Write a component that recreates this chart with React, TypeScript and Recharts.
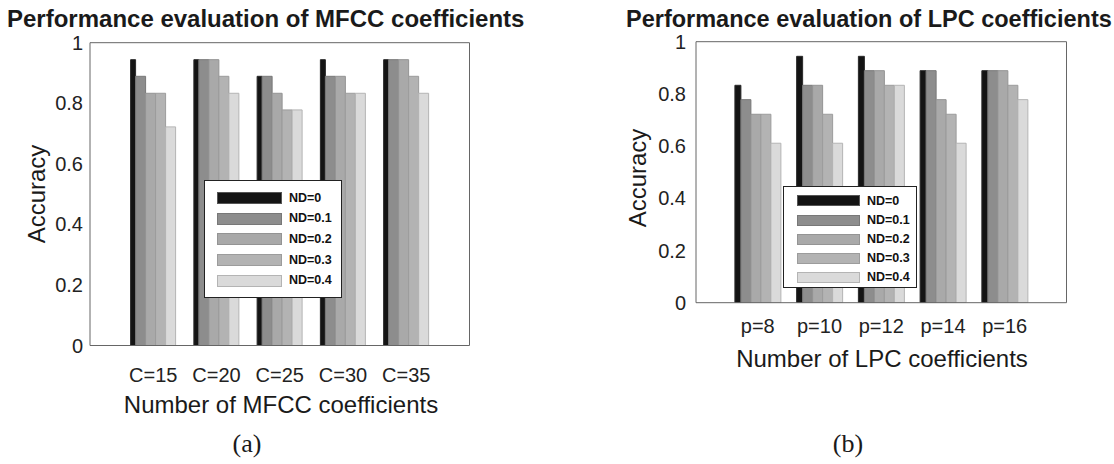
import React from 'react';
import { BarChart, Bar, XAxis, YAxis, Legend } from 'recharts';

// series (noise levels)
const seriesNames = ['ND=0', 'ND=0.1', 'ND=0.2', 'ND=0.3', 'ND=0.4'];
const seriesFill = ['#141414', '#8d8d8d', '#a9a9a9', '#b3b3b3', '#dadada'];
const seriesStroke = ['#2a2a2a', '#787878', '#949494', '#9c9c9c', '#b4b4b4'];
const yTicks = [0, 0.2, 0.4, 0.6, 0.8, 1];

// (a) MFCC
const mfccCategories = ['C=15', 'C=20', 'C=25', 'C=30', 'C=35'];
const mfccNd0 = [0.944, 0.944, 0.889, 0.944, 0.944];
const mfccNd01 = [0.889, 0.944, 0.889, 0.889, 0.944];
const mfccNd02 = [0.833, 0.944, 0.833, 0.889, 0.944];
const mfccNd03 = [0.833, 0.889, 0.778, 0.833, 0.889];
const mfccNd04 = [0.722, 0.833, 0.778, 0.833, 0.833];

// (b) LPC
const lpcCategories = ['p=8', 'p=10', 'p=12', 'p=14', 'p=16'];
const lpcNd0 = [0.833, 0.944, 0.944, 0.889, 0.889];
const lpcNd01 = [0.778, 0.833, 0.889, 0.889, 0.889];
const lpcNd02 = [0.722, 0.833, 0.889, 0.778, 0.889];
const lpcNd03 = [0.722, 0.722, 0.833, 0.722, 0.833];
const lpcNd04 = [0.611, 0.611, 0.833, 0.611, 0.778];

const FONT = '"Liberation Sans", Arial, sans-serif';

function buildRows(categories: string[], series: number[][]) {
  return categories.map((cat, i) => {
    const row: Record<string, string | number> = { cat };
    series.forEach((s, k) => {
      row['s' + k] = s[i];
    });
    return row;
  });
}

const mfccData = buildRows(mfccCategories, [mfccNd0, mfccNd01, mfccNd02, mfccNd03, mfccNd04]);
const lpcData = buildRows(lpcCategories, [lpcNd0, lpcNd01, lpcNd02, lpcNd03, lpcNd04]);

interface LegendLayout {
  left: number;
  top: number;
  width: number;
  height: number;
  padTop: number;
  rowH: number;
  swatchLeft: number;
  swatchW: number;
  swatchH: number;
}

const makeLegend = (lg: LegendLayout) => (props: any) => {
  const payload = props.payload || [];
  return (
    <div
      style={{
        width: lg.width,
        height: lg.height,
        boxSizing: 'border-box',
        border: '1px solid #222',
        background: '#fff',
        paddingTop: lg.padTop,
      }}
    >
      {payload.map((entry: any) => {
        const idx = seriesNames.indexOf(entry.value);
        return (
          <div key={entry.value} style={{ display: 'flex', alignItems: 'center', height: lg.rowH }}>
            <div
              style={{
                marginLeft: lg.swatchLeft,
                width: lg.swatchW,
                height: lg.swatchH,
                boxSizing: 'border-box',
                background: seriesFill[idx],
                border: '1px solid ' + (idx === 0 ? '#555' : seriesStroke[idx]),
              }}
            />
            <span
              style={{
                marginLeft: 7,
                fontFamily: FONT,
                fontWeight: 'bold',
                fontSize: 12.5,
                color: '#111',
                lineHeight: 1,
              }}
            >
              {entry.value}
            </span>
          </div>
        );
      })}
    </div>
  );
};

interface PanelProps {
  data: Record<string, string | number>[];
  left: number;
  width: number;
  margin: { top: number; right: number; bottom: number; left: number };
  pad: number;
  barSizes: number[];
  xTickGap: number;
  yTickGap: number;
  legend: LegendLayout;
}

const Panel: React.FC<PanelProps> = ({ data, left, width, margin, pad, barSizes, xTickGap, yTickGap, legend }) => {
  const tickFont = { fill: '#222', fontSize: 20, fontFamily: FONT };
  return (
    <div style={{ position: 'absolute', left, top: 0 }}>
      <BarChart width={width} height={464} data={data} margin={margin} barGap={0}>
        <XAxis
          dataKey="cat"
          xAxisId="b"
          interval={0}
          height={30}
          padding={{ left: pad, right: pad }}
          tickLine={false}
          tickSize={0}
          tickMargin={xTickGap}
          axisLine={{ stroke: '#666' }}
          tick={tickFont}
        />
        <XAxis
          dataKey="cat"
          xAxisId="t"
          orientation="top"
          mirror
          interval={0}
          padding={{ left: pad, right: pad }}
          tick={false}
          tickSize={4}
          tickLine={{ stroke: '#222' }}
          axisLine={{ stroke: '#666' }}
        />
        <YAxis
          yAxisId="l"
          domain={[0, 1]}
          ticks={yTicks}
          allowDataOverflow
          width={60}
          tickLine={false}
          tickSize={0}
          tickMargin={yTickGap}
          axisLine={{ stroke: '#666' }}
          tick={tickFont}
          tickFormatter={(v: number) => String(v)}
        />
        <YAxis
          yAxisId="li"
          domain={[0, 1]}
          ticks={yTicks}
          allowDataOverflow
          mirror
          tick={false}
          tickSize={4}
          tickLine={{ stroke: '#222' }}
          axisLine={false}
        />
        <YAxis
          yAxisId="r"
          orientation="right"
          domain={[0, 1]}
          ticks={yTicks}
          allowDataOverflow
          mirror
          tick={false}
          tickSize={4}
          tickLine={{ stroke: '#222' }}
          axisLine={{ stroke: '#666' }}
        />
        {seriesNames.map((name, k) => (
          <Bar
            key={name}
            dataKey={'s' + k}
            name={name}
            xAxisId="b"
            yAxisId="l"
            barSize={barSizes[k]}
            fill={seriesFill[k]}
            stroke={seriesStroke[k]}
            strokeWidth={1}
            isAnimationActive={false}
          />
        ))}
        <Legend
          layout="horizontal"
          verticalAlign="middle"
          align="center"
          wrapperStyle={{ left: legend.left, top: legend.top, width: legend.width, height: legend.height }}
          content={makeLegend(legend)}
        />
      </BarChart>
    </div>
  );
};

const App: React.FC = () => {
  return (
    <div style={{ position: 'absolute', left: 0, top: 0, width: 1114, height: 464, background: '#fff', overflow: 'hidden' }}>
      <svg width={1114} height={464} style={{ position: 'absolute', left: 0, top: 0 }}>
        <g fill="#1a1a1a" fontFamily={FONT}>
          <text x={7} y={27} fontSize={24} fontWeight="bold">Performance evaluation of MFCC coefficients</text>
          <text x={626} y={27} fontSize={23.5} fontWeight="bold">Performance evaluation of LPC coefficients</text>
          <text x={281} y={413} fontSize={24} textAnchor="middle">Number of MFCC coefficients</text>
          <text x={882} y={367} fontSize={24} textAnchor="middle">Number of LPC coefficients</text>
          <text x={0} y={0} fontSize={24} textAnchor="middle" dominantBaseline="central" transform="translate(36,194) rotate(-90)">Accuracy</text>
          <text x={0} y={0} fontSize={24} textAnchor="middle" dominantBaseline="central" transform="translate(637,178) rotate(-90)">Accuracy</text>
        </g>
        <g fill="#1a1a1a" fontFamily='"Liberation Serif", "Times New Roman", serif' fontSize={26}>
          <text x={247} y={452} textAnchor="middle">(a)</text>
          <text x={848} y={452} textAnchor="middle">(b)</text>
        </g>
      </svg>
      <Panel
        data={mfccData}
        left={0}
        width={500}
        margin={{ top: 42.7, right: 30.5, bottom: 88.5, left: 30 }}
        pad={31.6}
        barSizes={[5, 10, 10, 10, 10]}
        xTickGap={22}
        yTickGap={7}
        legend={{ left: 204, top: 180, width: 138, height: 118, padTop: 6.5, rowH: 20.7, swatchLeft: 12, swatchW: 65, swatchH: 12 }}
      />
      <Panel
        data={lpcData}
        left={560}
        width={540}
        margin={{ top: 41.7, right: 33.5, bottom: 131.3, left: 76 }}
        pad={30.9}
        barSizes={[6, 10, 10, 10, 10]}
        xTickGap={16}
        yTickGap={10}
        legend={{ left: 223, top: 186, width: 134, height: 102, padTop: 4.4, rowH: 19.2, swatchLeft: 13, swatchW: 63, swatchH: 11 }}
      />
    </div>
  );
};

export default App;
